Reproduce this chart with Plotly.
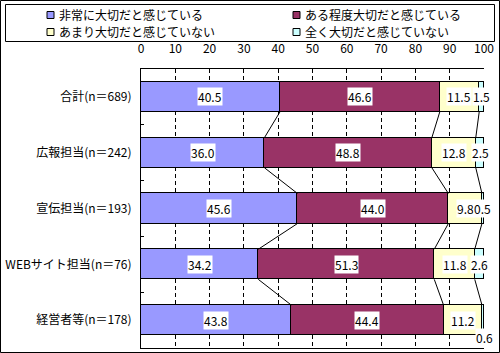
import plotly.graph_objects as go

categories = ["合計(n＝689)", "広報担当(n＝242)", "宣伝担当(n＝193)", "WEBサイト担当(n＝76)", "経営者等(n＝178)"]
series_names = ["非常に大切だと感じている", "ある程度大切だと感じている", "あまり大切だと感じていない", "全く大切だと感じていない"]
very = [40.5, 36.0, 45.6, 34.2, 43.8]
somewhat = [46.6, 48.8, 44.0, 51.3, 44.4]
not_much = [11.5, 12.8, 9.8, 11.8, 11.2]
not_at_all = [1.5, 2.5, 0.5, 2.6, 0.6]
x_ticks = [0, 10, 20, 30, 40, 50, 60, 70, 80, 90, 100]

series = [very, somewhat, not_much, not_at_all]
colors = ["#9999FF", "#993366", "#FFFFCC", "#CCFFFF"]
FONT = "Noto Sans CJK JP"
BW = 0.54  # bar width in category units

W, H = 500, 353
L, R, T, B = 141, 16, 69, 5
pw, ph = W - L - R, H - T - B
def px_to_paper_x(px):
    return (px - L) / pw
def px_to_paper_y(py):
    return 1 - (py - T) / ph

ypos = list(range(len(categories)))
fig = go.Figure()
for name, vals, col in zip(series_names, series, colors):
    fig.add_trace(go.Bar(
        y=ypos, x=vals, orientation="h", width=BW,
        marker=dict(color=col, line=dict(color="black", width=1)),
        name=name, showlegend=False, hoverinfo="skip"))

# cumulative sums
cums = []
for i in range(len(categories)):
    c, row = 0, []
    for s in series:
        c += s[i]
        row.append(c)
    cums.append(row)

# series lines between consecutive bars
for j in range(3):
    for i in range(len(categories) - 1):
        fig.add_trace(go.Scatter(
            x=[cums[i][j], cums[i + 1][j]], y=[i + BW / 2, i + 1 - BW / 2],
            mode="lines", line=dict(color="black", width=1),
            showlegend=False, hoverinfo="skip"))

# data labels
for i in range(len(categories)):
    start = 0
    for j, s in enumerate(series):
        v = s[i]
        xc = start + v / 2
        start += v
        below = (j == 3 and i == len(categories) - 1)
        fig.add_annotation(
            x=xc, y=(i + BW / 2) if below else i, xref="x", yref="y",
            text=f"{v:.1f}", showarrow=False, yanchor="middle",
            yshift=-2 if below else 0, xshift=2 if below else 0,
            bgcolor="white", borderpad=0,
            font=dict(family=FONT, size=12, color="black"))

# legend (2 x 2 grid inside a framed box)
shapes = [
    dict(type="rect", xref="paper", yref="paper",
         x0=px_to_paper_x(0.5), x1=px_to_paper_x(499.5),
         y0=px_to_paper_y(0.5), y1=px_to_paper_y(352.5),
         line=dict(color="black", width=1), layer="below"),
    dict(type="rect", xref="paper", yref="paper",
         x0=px_to_paper_x(5.5), x1=px_to_paper_x(494.5),
         y0=px_to_paper_y(4.5), y1=px_to_paper_y(41.5),
         line=dict(color="black", width=1), layer="below"),
]
leg_cols = [50.5, 296.5]
leg_rows = [15.0, 32.0]
for k, (name, col) in enumerate(zip(series_names, colors)):
    cx = leg_cols[k % 2]
    cy = leg_rows[k // 2]
    shapes.append(dict(type="rect", xref="paper", yref="paper",
                       x0=px_to_paper_x(cx - 3.5), x1=px_to_paper_x(cx + 3.5),
                       y0=px_to_paper_y(cy - 3.5), y1=px_to_paper_y(cy + 3.5),
                       fillcolor=col, line=dict(color="black", width=1)))
    fig.add_annotation(x=px_to_paper_x(cx + 6), y=px_to_paper_y(cy),
                       xref="paper", yref="paper", xanchor="left", yanchor="middle",
                       text=name, showarrow=False,
                       font=dict(family=FONT, size=12, color="black"))

fig.update_layout(
    width=W, height=H, barmode="stack",
    margin=dict(l=L, r=R, t=T, b=B),
    paper_bgcolor="white", plot_bgcolor="white",
    font=dict(family=FONT, size=12, color="black"),
    bargap=0, showlegend=False,
    shapes=shapes,
)
fig.update_xaxes(
    range=[0, 100], side="top", tickvals=x_ticks, ticks="",
    showgrid=True, gridcolor="black", gridwidth=1, griddash="4px,3px",
    showline=True, mirror=True, linecolor="black", linewidth=1,
    zeroline=False, ticklabelstandoff=10,
    tickfont=dict(family=FONT, size=12, color="black"))
fig.update_yaxes(
    range=[len(categories) - 0.5, -0.5], tickvals=ypos, ticktext=categories,
    ticks="", showgrid=False, zeroline=False,
    showline=True, linecolor="black", linewidth=1, ticklabelstandoff=6,
    minor=dict(tickmode="array", tickvals=[k + 0.5 for k in ypos[:-1]],
               ticks="inside", ticklen=3, tickcolor="black", showgrid=False),
    tickfont=dict(family=FONT, size=12, color="black"))

fig.write_html("out.html")
